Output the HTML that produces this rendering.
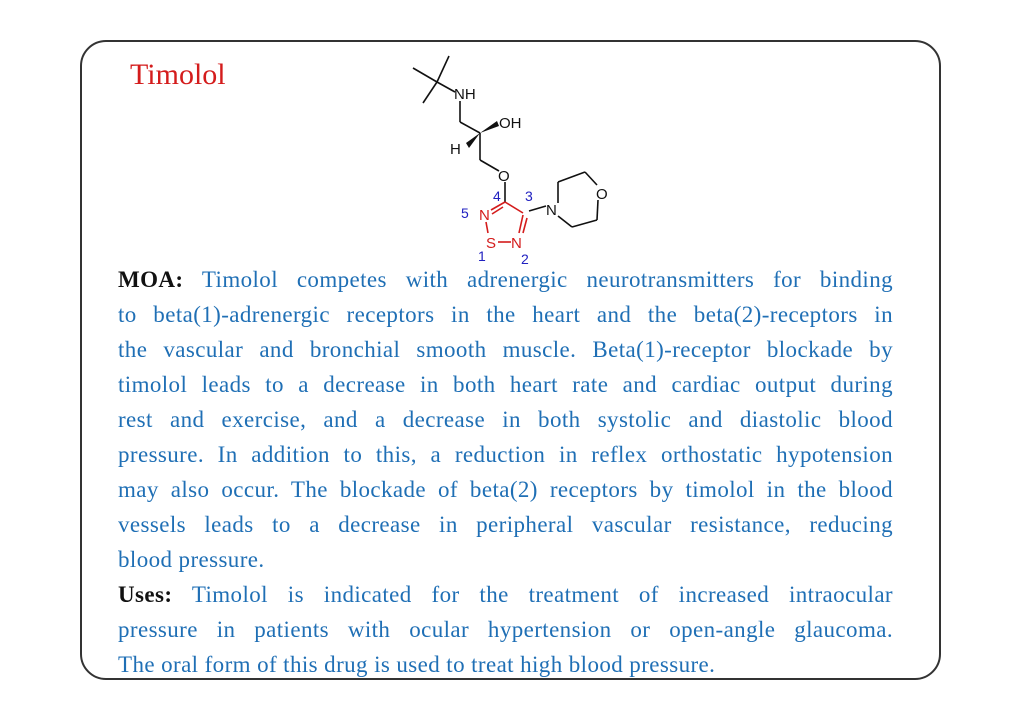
<!DOCTYPE html>
<html><head><meta charset="utf-8"><style>
body{margin:0;width:1024px;height:724px;background:#fff;position:relative;overflow:hidden;font-family:"Liberation Serif",serif}
.box{position:absolute;left:80px;top:40px;width:861px;height:640px;border:2px solid #333;border-radius:26px;box-sizing:border-box}
.title{position:absolute;left:130px;top:58px;font-size:30px;color:#d41c1c}
.txt{position:absolute;left:118px;top:262px;width:775px;font-size:23px;letter-spacing:0.4px;color:#1f6fb5}
.l{height:35px;line-height:35px;text-align:justify;text-align-last:justify;white-space:nowrap}
.e{text-align-last:left}
b{color:#111}
</style></head><body>
<div class="box"></div>
<div class="title">Timolol</div>
<svg width="1024" height="724" style="position:absolute;left:0;top:0" font-family="Liberation Sans, sans-serif">
<g stroke="#111" stroke-width="1.6" fill="none">
<line x1="437" y1="82" x2="413" y2="68"/><line x1="437" y1="82" x2="449" y2="56"/><line x1="437" y1="82" x2="423" y2="103"/>
<line x1="437" y1="82" x2="455" y2="92"/>
<line x1="460" y1="101" x2="460" y2="122"/><line x1="460" y1="122" x2="480" y2="133"/>
<line x1="480" y1="133" x2="480" y2="160"/><line x1="480" y1="160" x2="499" y2="171"/>
<line x1="505" y1="182" x2="505" y2="202"/>
<line x1="529" y1="211" x2="546" y2="206"/>
<line x1="558" y1="203" x2="558" y2="182"/><line x1="558" y1="182" x2="585" y2="172"/><line x1="585" y1="172" x2="597" y2="185"/>
<line x1="598" y1="200" x2="597" y2="220"/><line x1="597" y1="220" x2="572" y2="227"/><line x1="572" y1="227" x2="558" y2="216"/>
</g>
<polygon points="480,133 497,121 499,126" fill="#111"/>
<polygon points="480,133 466,143 469,148" fill="#111"/>
<g stroke="#d41c1c" stroke-width="1.6" fill="none">
<line x1="505" y1="202" x2="491" y2="210"/><line x1="503" y1="207" x2="492" y2="214"/>
<line x1="505" y1="202" x2="523" y2="213"/>
<line x1="523" y1="215" x2="519" y2="233"/><line x1="527" y1="218" x2="523" y2="233"/>
<line x1="486" y1="222" x2="488" y2="233"/>
<line x1="498" y1="242" x2="511" y2="242"/>
</g>
<g font-size="15" fill="#111">
<text x="454" y="99">NH</text><text x="499" y="128">OH</text><text x="450" y="154">H</text>
<text x="498" y="181">O</text><text x="546" y="215">N</text><text x="596" y="199">O</text>
</g>
<g font-size="15" fill="#d41c1c"><text x="479" y="220">N</text><text x="486" y="248">S</text><text x="511" y="248">N</text></g>
<g font-size="14" fill="#2020c0"><text x="493" y="201">4</text><text x="525" y="201">3</text><text x="461" y="218">5</text><text x="478" y="261">1</text><text x="521" y="264">2</text></g>
</svg>
<div class="txt">
<div class="l"><b>MOA:</b> Timolol competes with adrenergic neurotransmitters for binding</div>
<div class="l">to beta(1)-adrenergic receptors in the heart and the beta(2)-receptors in</div>
<div class="l">the vascular and bronchial smooth muscle. Beta(1)-receptor blockade by</div>
<div class="l">timolol leads to a decrease in both heart rate and cardiac output during</div>
<div class="l">rest and exercise, and a decrease in both systolic and diastolic blood</div>
<div class="l">pressure. In addition to this, a reduction in reflex orthostatic hypotension</div>
<div class="l">may also occur. The blockade of beta(2) receptors by timolol in the blood</div>
<div class="l">vessels leads to a decrease in peripheral vascular resistance, reducing</div>
<div class="l e">blood pressure.</div>
<div class="l"><b>Uses:</b> Timolol is indicated for the treatment of increased intraocular</div>
<div class="l">pressure in patients with ocular hypertension or open-angle glaucoma.</div>
<div class="l e">The oral form of this drug is used to treat high blood pressure.</div>
</div>
</body></html>
